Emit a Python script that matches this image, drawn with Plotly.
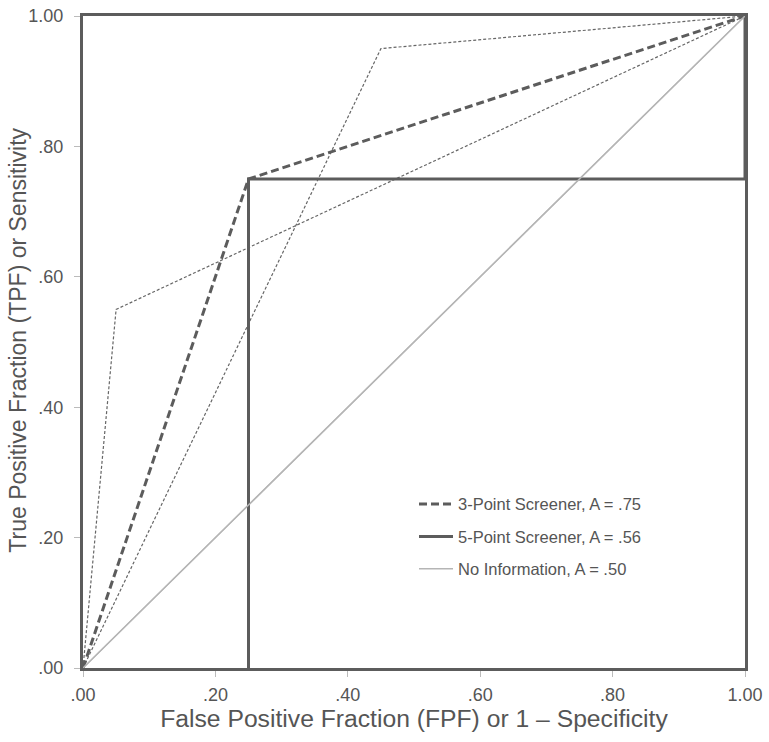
import plotly.graph_objects as go

# ROC data
three_x = [0.0, 0.25, 1.0]
three_y = [0.0, 0.75, 1.0]
five_x = [0.25, 0.25, 1.0, 1.0]
five_y = [0.0, 0.75, 0.75, 1.0]
none_x = [0.0, 1.0]
none_y = [0.0, 1.0]
alt1_x = [0.0, 0.05, 1.0]
alt1_y = [0.0, 0.55, 1.0]
alt2_x = [0.0, 0.45, 1.0]
alt2_y = [0.0, 0.95, 1.0]
tick_vals = [0.0, 0.2, 0.4, 0.6, 0.8, 1.0]
tick_text = [".00", ".20", ".40", ".60", ".80", "1.00"]
y_title = "True Positive Fraction (TPF) or Sensitivity"
x_title = "False Positive Fraction (FPF) or 1 \u2013 Specificity"

dark = "#5c5c5c"
light = "#b5b5b5"
txt = "#555555"

fig = go.Figure()
fig.add_trace(go.Scatter(x=none_x, y=none_y, mode="lines", showlegend=False,
                         line=dict(color=light, width=1.2), hoverinfo="skip"))
fig.add_trace(go.Scatter(x=alt1_x, y=alt1_y, mode="lines", showlegend=False,
                         line=dict(color="#666666", width=1.2, dash="3px,2px")))
fig.add_trace(go.Scatter(x=alt2_x, y=alt2_y, mode="lines", showlegend=False,
                         line=dict(color="#666666", width=1.2, dash="3px,2px")))
fig.add_trace(go.Scatter(x=three_x, y=three_y, mode="lines", name="3-Point Screener, A = .75",
                         legendgroup="a", legendrank=1,
                         line=dict(color=dark, width=3, dash="8px,4px")))
fig.add_trace(go.Scatter(x=five_x, y=five_y, mode="lines", name="5-Point Screener, A = .56",
                         legendgroup="b", legendrank=2,
                         line=dict(color=dark, width=3)))
fig.add_trace(go.Scatter(x=none_x, y=none_y, mode="lines", name="No Information, A = .50",
                         legendgroup="c", legendrank=3,
                         line=dict(color=light, width=1.5)))

axis_common = dict(
    range=[0, 1], tickvals=tick_vals, ticktext=tick_text,
    showgrid=False, zeroline=False, automargin=False,
    showline=True, linecolor=dark, linewidth=3, mirror=True,
    ticks="outside", ticklen=6, tickcolor="#bbbbbb", tickwidth=1,
    tickfont=dict(family="Liberation Sans, Arial", size=18, color=txt),
)

fig.update_layout(
    width=769, height=742,
    margin=dict(l=83, r=24, t=16, b=74),
    paper_bgcolor="white", plot_bgcolor="white",
    font=dict(family="Liberation Sans, Arial", color=txt),
    xaxis=dict(**axis_common, ticklabelstandoff=2,
               title=dict(text=x_title, font=dict(size=24.7, color=txt), standoff=6)),
    yaxis=dict(**axis_common, ticklabelstandoff=7),
    legend=dict(x=0.5, y=0.278, xanchor="left", yanchor="top",
                bgcolor="rgba(0,0,0,0)", tracegroupgap=8,
                font=dict(size=16.5, color=txt), itemwidth=34),
    showlegend=True,
    annotations=[dict(text=y_title, textangle=-90, xref="paper", yref="paper",
                      x=-(83 - 18) / 662, y=0.502, xanchor="center", yanchor="middle",
                      showarrow=False, font=dict(size=23, color=txt))],
)

fig.write_html("out.html")
